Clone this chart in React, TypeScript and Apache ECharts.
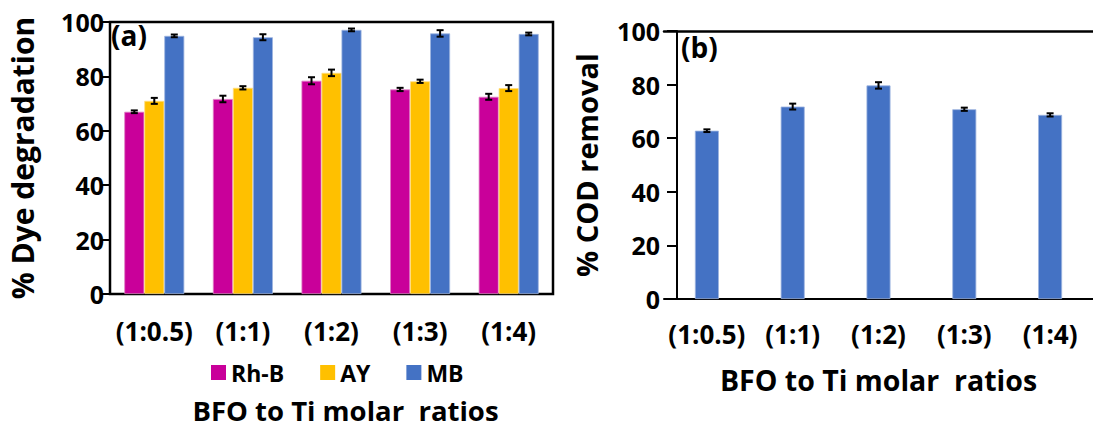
import React, { useEffect, useRef } from "react";
import * as echarts from "echarts";

const categories = ["(1:0.5)", "(1:1)", "(1:2)", "(1:3)", "(1:4)"];
const yTicks = [0, 20, 40, 60, 80, 100];
const rhB = [67.0, 71.7, 78.4, 75.2, 72.5];
const ay = [71.0, 75.8, 81.3, 78.2, 75.7];
const mb = [94.9, 94.4, 97.1, 95.8, 95.6];
const rhBErr = [0.5, 1.2, 1.3, 0.6, 1.1];
const ayErr = [1.1, 0.6, 1.2, 0.6, 1.1];
const mbErr = [0.5, 1.1, 0.5, 1.2, 0.5];
const cod = [62.8, 71.8, 79.7, 70.8, 68.7];
const codErr = [0.5, 1.1, 1.2, 0.6, 0.6];

const FONT = "'Open Sans', sans-serif";

function errSeries(vals: number[], errs: number[], offset: number, xi: number, yi: number) {
  return {
    type: "custom",
    name: "err",
    xAxisIndex: xi,
    yAxisIndex: yi,
    z: 10,
    silent: true,
    data: vals.map((v, i) => [i, v, errs[i]]),
    encode: { x: 0, y: 1 },
    renderItem: (params: any, api: any) => {
      const idx = api.value(0);
      const v = api.value(1);
      const e = api.value(2);
      const t = api.coord([idx, v + e]);
      const b = api.coord([idx, v - e]);
      const x = t[0] + offset;
      const st = { stroke: "#000", lineWidth: 2 };
      return {
        type: "group",
        children: [
          { type: "line", shape: { x1: x, y1: t[1], x2: x, y2: b[1] }, style: st },
          { type: "line", shape: { x1: x - 3.5, y1: t[1], x2: x + 3.5, y2: t[1] }, style: st },
          { type: "line", shape: { x1: x - 3.5, y1: b[1], x2: x + 3.5, y2: b[1] }, style: st },
        ],
      };
    },
  };
}

export default function App() {
  const ref = useRef<HTMLDivElement>(null);
  useEffect(() => {
    document.body.style.margin = "0";
    const chart = echarts.init(ref.current!, null, { renderer: "svg" });
    const yAxisCommon = {
      type: "value",
      min: yTicks[0],
      max: yTicks[yTicks.length - 1],
      interval: 20,
      splitLine: { show: false },
      axisLine: { show: true, lineStyle: { color: "#000", width: 2 } },
      axisTick: { show: true, length: 8, lineStyle: { color: "#000", width: 2 } },
      axisLabel: { color: "#000", fontWeight: "bold", fontSize: 25, fontFamily: FONT, margin: 6 },
      nameLocation: "middle",
      nameTextStyle: { color: "#000", fontWeight: "bold", fontSize: 30, fontFamily: FONT },
    };
    const xAxisCommon = {
      type: "category",
      data: categories,
      axisLine: { show: true, lineStyle: { color: "#000", width: 2 } },
      axisTick: { show: false },
      axisLabel: { color: "#000", fontWeight: "bold", fontSize: 26, fontFamily: FONT, interval: 0 },
      nameLocation: "middle",
      nameTextStyle: { color: "#000", fontWeight: "bold", fontSize: 28.5, lineHeight: 28, fontFamily: FONT },
    };
    const option: any = {
      animation: false,
      backgroundColor: "#fff",
      textStyle: { fontFamily: FONT },
      grid: [
        { left: 110, top: 22, width: 443, height: 272, show: true, borderColor: "#000", borderWidth: 2.5, backgroundColor: "transparent" },
        { left: 664, top: 31, width: 429, height: 268 },
      ],
      legend: {
        data: ["Rh-B", "AY", "MB"],
        left: 206,
        top: 356,
        itemWidth: 15,
        itemHeight: 15,
        itemGap: 36,
        itemStyle: { borderWidth: 0 },
        icon: "rect",
        textStyle: { color: "#000", fontWeight: "bold", fontSize: 23, lineHeight: 23, fontFamily: FONT },
      },
      xAxis: [
        { ...xAxisCommon, gridIndex: 0, axisLabel: { ...xAxisCommon.axisLabel, margin: 24 }, name: "BFO to Ti molar  ratios", nameGap: 103, nameTextStyle: { ...xAxisCommon.nameTextStyle, fontSize: 27.5, lineHeight: 27.5, padding: [0, 0, 0, 28] } },
        { ...xAxisCommon, gridIndex: 1, axisLabel: { ...xAxisCommon.axisLabel, margin: 22 }, name: "BFO to Ti molar  ratios", nameGap: 67 },
        { type: "category", gridIndex: 1, position: "top", data: categories, axisLine: { show: true, lineStyle: { color: "#000", width: 2.5 } }, axisTick: { show: false }, axisLabel: { show: false } },
      ],
      yAxis: [
        { ...yAxisCommon, gridIndex: 0, name: "% Dye degradation", nameGap: 73 },
        { ...yAxisCommon, gridIndex: 1, offset: -13, axisTick: { ...yAxisCommon.axisTick, length: 10 }, axisLabel: { ...yAxisCommon.axisLabel, margin: 17 }, name: "% COD removal", nameGap: 76, nameTextStyle: { ...yAxisCommon.nameTextStyle, fontSize: 29 } },
      ],
      series: [
        { type: "bar", name: "Rh-B", data: rhB, xAxisIndex: 0, yAxisIndex: 0, barWidth: 20, barGap: "0%", itemStyle: { color: "#C9009A", borderColor: "#E07FC4", borderWidth: 0.8 } },
        { type: "bar", name: "AY", data: ay, xAxisIndex: 0, yAxisIndex: 0, barWidth: 20, barGap: "0%", itemStyle: { color: "#FFC000", borderColor: "#FFDD80", borderWidth: 0.8 } },
        { type: "bar", name: "MB", data: mb, xAxisIndex: 0, yAxisIndex: 0, barWidth: 20, barGap: "0%", itemStyle: { color: "#4472C4", borderColor: "#9DB4E0", borderWidth: 0.8 } },
        { type: "bar", name: "COD", data: cod, xAxisIndex: 1, yAxisIndex: 1, barWidth: 24, itemStyle: { color: "#4472C4", borderColor: "#9DB4E0", borderWidth: 0.8 } },
        errSeries(rhB, rhBErr, -20, 0, 0),
        errSeries(ay, ayErr, 0, 0, 0),
        errSeries(mb, mbErr, 20, 0, 0),
        errSeries(cod, codErr, 0, 1, 1),
      ],
      graphic: [
        { type: "text", left: 111, top: 21, style: { text: "(a)", fill: "#000", font: `bold 28px ${FONT}` } },
        { type: "text", left: 681, top: 33, style: { text: "(b)", fill: "#000", font: `bold 28px ${FONT}` } },
      ],
    };
    chart.setOption(option);
    return () => chart.dispose();
  }, []);
  return <div ref={ref} style={{ width: 1093, height: 430 }} />;
}
